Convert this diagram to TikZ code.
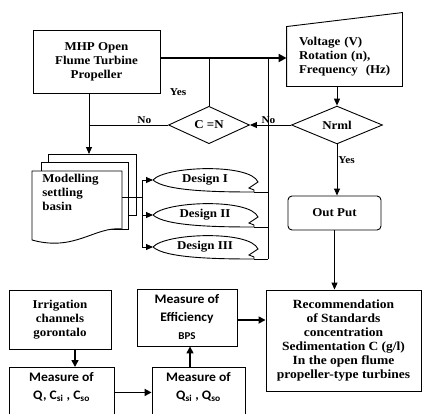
\documentclass[tikz,border=0pt]{standalone}
\usepackage{fontspec}
\setmainfont{Liberation Serif}[FakeStretch=1.08]
\newfontfamily\calib{Carlito}[FakeStretch=1.05]
\usetikzlibrary{shapes.geometric,arrows.meta}
\begin{document}
\begin{tikzpicture}[x=1pt,y=-1pt,line width=0.9pt,
  box/.style={draw,fill=white,align=center,inner sep=0pt,font=\bfseries\fontsize{12}{14}\selectfont},
  sbox/.style={box,font=\calib\bfseries\fontsize{13}{18}\selectfont},
  txt/.style={align=left,inner sep=0pt,font=\bfseries\fontsize{12}{14}\selectfont},
  lbl/.style={inner sep=1pt,font=\bfseries\fontsize{10.5}{12}\selectfont},
  dia/.style={diamond,draw,fill=white,inner sep=0pt,font=\bfseries\fontsize{12}{14}\selectfont},
  page/.style={draw,fill=white},
  flow/.style={-{Triangle[length=7pt,width=6pt]}},
  bigflow/.style={line width=1.6pt,-{Triangle[length=7pt,width=7pt]}}]
\useasboundingbox (0,0) rectangle (422,413);
\clip (0,0) rectangle (422,413);
\node[box,minimum width=127pt,minimum height=63pt] (mhp) at (96.5,61.5) {MHP Open\\Flume Turbine\\Propeller};
\node[txt,minimum width=115pt,minimum height=59pt,text width=91pt] (volt) at (344.5,56.5) {Voltage (V)\\Rotation (n),\\Frequency~~(Hz)};
\draw (volt.south west) -- (volt.north west) -- ([yshift=14pt]volt.north east) -- (volt.south east) -- cycle;
\coordinate (top) at ([yshift=3.5pt]mhp.east);
\coordinate (mdown) at ([xshift=-7.5pt]mhp.south);
\coordinate (ret) at (268,58);
\node[dia,minimum width=91pt,minimum height=36pt] (nrml) at (337,125) {Nrml};
\node[dia,minimum width=81pt,minimum height=36pt] (cn) at (209,125) {C =N};
\node[box,rounded corners=4pt,minimum width=93pt,minimum height=34pt] (out) at (334.5,213) {Out Put};
\node[box,minimum width=155pt,minimum height=101pt,font=\bfseries\fontsize{12.5}{14}\selectfont] (rec) at (343.5,340.5) {Recommendation\\of Standards\\concentration\\Sedimentation C (g/l)\\In the open flume\\propeller-type turbines};
\node[page,minimum width=88pt,minimum height=61pt,anchor=north west] (basin) at (48,154) {};
\draw[page] (41,162) rectangle (128,229);
\draw[page] (32,171) -- (122,171) -- (122,229) .. controls (95,226) and (75,252) .. (32,240) -- cycle;
\node[txt,anchor=north west] (model) at (42,174) {Modelling\\settling\\basin};
\coordinate (fr) at (122,197);
\coordinate (bus) at (142,197);
\foreach \n/\c/\t in {1/180/I,2/215/II,3/247/III}{
  \draw[fill=white] (153,\c) .. controls (165,\c-14) and (250,\c-17) .. (258,\c+2) -- (249,\c+8) -- (254,\c+10) -- (254,\c+12)
    .. controls (215,\c+12) and (165,\c+11) .. (153,\c);
  \coordinate (din\n) at (153,\c);
  \coordinate (dout\n) at (254,\c+12);
  \node[txt] (d\n) at (205,\c) {Design \t};
}
\node[box,minimum width=102pt,minimum height=59pt] (irr) at (60,319.5) {Irrigation\\channels\\gorontalo};
\node[sbox,minimum width=105pt,minimum height=63pt,anchor=north] (meas1) at (61.5,367) {};
\node[sbox,draw=none,fill=none,anchor=north] (meas1t) at ([yshift=-5pt]meas1.north) {Measure of\\Q, C\textsubscript{si} , C\textsubscript{so}};
\node[sbox,minimum width=93pt,minimum height=63pt,anchor=north] (meas2) at (198.5,367) {};
\node[sbox,draw=none,fill=none,anchor=north] (meas2t) at ([yshift=-5pt]meas2.north) {Measure of\\Q\textsubscript{si} , Q\textsubscript{so}};
\node[sbox,minimum width=100pt,minimum height=57pt] (eff) at (187,317.5) {Measure of\\Efficiency\\{\fontsize{10.5}{10}\selectfont BPS}};
\draw[line width=2.6pt,-{Triangle[length=8pt,width=8pt]}] (top) -- (top -| volt.west);
\draw (cn.north) -- (cn.north |- top);
\draw (ret) -- (ret |- dout3);
\draw[flow] (nrml.north |- volt.south) -- (nrml.north);
\draw[flow] (nrml.west) -- (cn.east) node[lbl,pos=0.55,above] {No};
\draw (cn.west) -- (cn.west -| mdown) node[lbl,pos=0.3,above] {No};
\node[lbl] (yes1) at (178,92) {Yes};
\draw[flow] (mdown) -- (mdown |- basin.north);
\draw[flow] (nrml.south) -- (nrml.south |- out.north) node[lbl,pos=0.3,right] {Yes};
\draw[flow] (out.south) -- (out.south |- rec.north);
\draw (fr) -- (bus);
\draw (bus |- din1) -- (bus |- din3);
\draw[flow] (bus |- din1) -- (din1);
\draw[flow] (bus |- din2) -- (din2);
\draw[flow] (bus |- din3) -- (din3);
\draw (dout1) -- (ret |- dout1);
\draw (dout2) -- (ret |- dout2);
\draw (dout3) -- (ret |- dout3);
\draw[bigflow] ([xshift=15pt]irr.south) -- ([xshift=15pt]irr.south |- meas1.north);
\draw[bigflow] ([yshift=6.5pt]meas1.east) -- ([yshift=6.5pt]meas1.east -| meas2.west);
\draw[bigflow] ([xshift=3pt]eff.south |- meas2.north) -- ([xshift=3pt]eff.south);
\draw[bigflow] ([yshift=-2.5pt]eff.east) -- ([yshift=-2.5pt]eff.east -| rec.west);
\end{tikzpicture}
\end{document}
